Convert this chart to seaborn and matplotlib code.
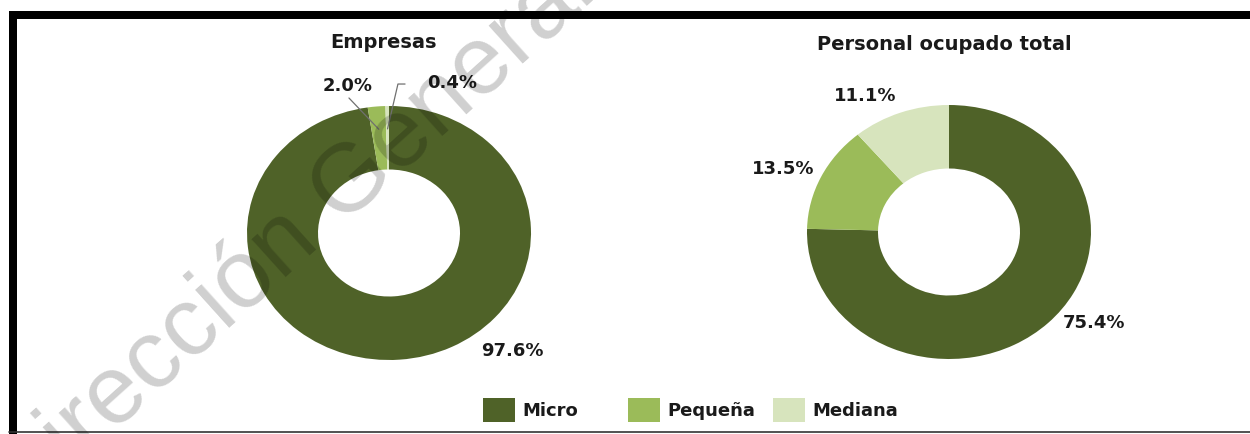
import numpy as np
import matplotlib
matplotlib.use("Agg")
import matplotlib.pyplot as plt
import seaborn as sns
from matplotlib.patches import Patch, Rectangle
from matplotlib.lines import Line2D

# ---------------- data ----------------
categories = ["Micro", "Pequeña", "Mediana"]
empresas = [97.6, 2.0, 0.4]
personal = [75.4, 13.5, 11.1]
titles = ["Empresas", "Personal ocupado total"]
watermark = "Dirección General"

# ---------------- style ----------------
sns.set_theme(style="white")
plt.rcParams["font.family"] = ["DejaVu Sans"]
palette = sns.color_palette(["#4f6228", "#9bbb59", "#d7e4bd"])

W, H = 1250, 434
fig = plt.figure(figsize=(W / 100, H / 100), dpi=100)
fig.patch.set_facecolor("white")


def box(cx, cy, rx, ry):
    return [(cx - rx) / W, (H - (cy + ry)) / H, 2 * rx / W, 2 * ry / H]


# donut geometry (pixels)
geo = [(389, 233, 142, 127), (949, 232, 142, 127)]
# label positions (in donut data units)
label_pos = [
    [(0.866, -0.929), (-0.289, 1.157), (0.444, 1.185)],
    [(1.021, -0.720), (-1.169, 0.496), (-0.592, 1.071)],
]
title_xy = [(383, 43), (944, 44)]

for i, vals in enumerate([empresas, personal]):
    cx, cy, rx, ry = geo[i]
    ax = fig.add_axes(box(cx, cy, rx, ry))
    wedges, _ = ax.pie(vals, colors=palette, startangle=90, counterclock=False,
                       radius=1, wedgeprops=dict(width=0.5, linewidth=0,
                                                 antialiased=True))
    ax.set_aspect("auto")
    ax.set_xlim(-1, 1)
    ax.set_ylim(-1, 1)
    ax.axis("off")
    for j, v in enumerate(vals):
        lx, ly = label_pos[i][j]
        ax.text(lx, ly, f"{v:.1f}%", ha="center", va="center",
                fontsize=13, fontweight="bold", color="#1a1a1a", clip_on=False)
    if i == 0:
        # leader lines for small slices
        for j, (sx, sy), elbow in [(1, (-0.282, 1.063), None),
                                   (2, (0.113, 1.173), (0.063, 1.173))]:
            w = wedges[j]
            mid = np.deg2rad((w.theta1 + w.theta2) / 2)
            ex, ey = 0.82 * np.cos(mid), 0.82 * np.sin(mid)
            xs = [sx] + ([elbow[0]] if elbow else []) + [ex]
            ys = [sy] + ([elbow[1]] if elbow else []) + [ey]
            ax.plot(xs, ys, color="#707070", lw=0.9, clip_on=False)
    tx, ty = title_xy[i]
    fig.text(tx / W, 1 - ty / H, titles[i], ha="center", va="center",
             fontsize=14, fontweight="bold", color="#1a1a1a")

# legend: equally spaced entries
for k, (cat, col) in enumerate(zip(categories, palette)):
    fig.legend([Patch(facecolor=col, edgecolor="none")], [cat],
               loc="center left", bbox_to_anchor=((483 + 145 * k) / W, 1 - 410 / H),
               frameon=False, borderpad=0, borderaxespad=0,
               handlelength=1.75, handleheight=1.6, handletextpad=0.45,
               prop=dict(size=13, weight="bold"), labelcolor="#1a1a1a")

# frame decoration
fig.add_artist(Rectangle((9 / W, 1 - 19 / H), 1 - 9 / W, 8 / H,
                         transform=fig.transFigure, color="black", lw=0))
fig.add_artist(Rectangle((9 / W, 0), 8 / W, 1 - 11 / H,
                         transform=fig.transFigure, color="black", lw=0))
fig.add_artist(Line2D([9 / W, 1], [1 - 431.5 / H, 1 - 431.5 / H],
                      transform=fig.transFigure, color="#333333", lw=1.2))

# watermark
fig.text(4 / W, 1 - 498 / H, watermark, rotation=42, rotation_mode="anchor",
         ha="left", va="center", fontsize=70, color="black", alpha=0.19,
         family="Liberation Sans")

fig.savefig("out.png", dpi=100, facecolor="white")
